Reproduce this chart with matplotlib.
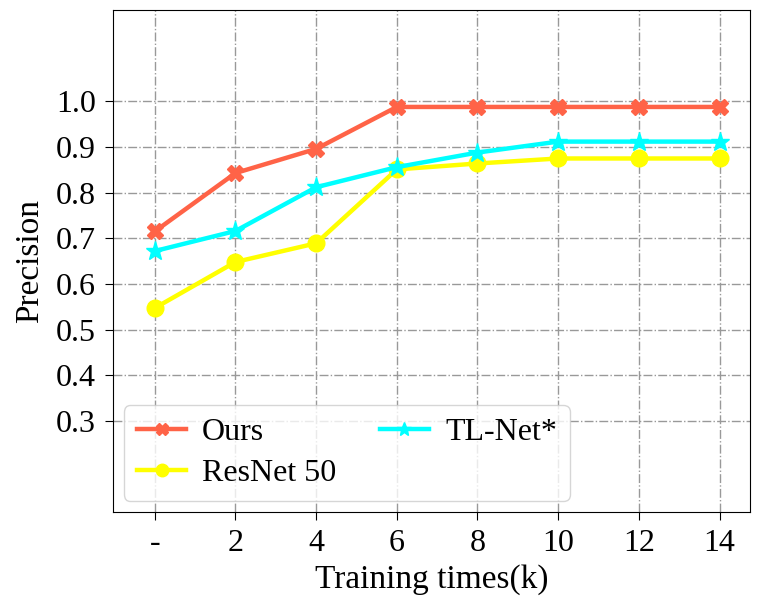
import numpy as np
import matplotlib.pyplot as plt

plt.rcParams['font.family'] = ['Liberation Serif', 'DejaVu Serif']

x_labels = ['-', '2', '4', '6', '8', '10', '12', '14']
ours = [0.715, 0.843, 0.896, 0.988, 0.988, 0.988, 0.988, 0.988]
resnet = [0.547, 0.648, 0.689, 0.851, 0.864, 0.875, 0.875, 0.875]
tlnet = [0.672, 0.716, 0.812, 0.856, 0.888, 0.912, 0.912, 0.912]

fig = plt.figure(figsize=(7.57, 6.03), dpi=100)
ax = fig.add_axes([0.149, 0.151, 0.842, 0.832])
x = np.arange(len(x_labels))

ax.plot(x, ours, color='#FF6347', marker='X', markersize=12, linewidth=3.2, label='Ours')
ax.plot(x, resnet, color='#FFFF00', marker='o', markersize=12, linewidth=3.2, label='ResNet 50')
ax.plot(x, tlnet, color='#00FFFF', marker='*', markersize=14, linewidth=3.2, label='TL-Net*')

ax.set_xticks(x)
ax.set_xticklabels(x_labels)
ax.set_yticks([0.3, 0.4, 0.5, 0.6, 0.7, 0.8, 0.9, 1.0])
ax.set_xlim(-0.52, 7.38)
ax.set_ylim(0.1, 1.2)
ax.tick_params(axis='x', labelsize=23, length=6, pad=6)
ax.tick_params(axis='y', labelsize=23, length=6, pad=6)
ax.grid(True, linestyle='-.', color='#999999', linewidth=1)
ax.set_xlabel('Training times(k)', fontsize=24, labelpad=5)
ax.set_ylabel('Precision', fontsize=24, labelpad=8)
ax.legend(loc='lower left', ncol=2, fontsize=23, columnspacing=1.35,
          handlelength=1.55, handletextpad=0.5, borderaxespad=0.35,
          markerscale=0.75, labelspacing=0.35)

plt.savefig('out.png')
